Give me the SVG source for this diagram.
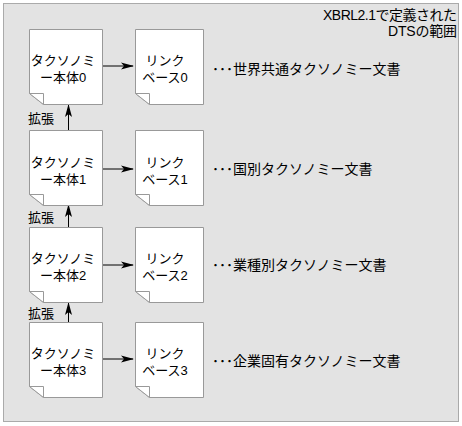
<svg xmlns="http://www.w3.org/2000/svg" width="462" height="426" viewBox="0 0 462 426">
<defs>
<style>
text{font-family:"Liberation Sans","Noto Sans CJK JP","Noto Sans CJK SC",sans-serif;font-size:13px;fill:#000}
.doc{fill:#fff;stroke:#999;stroke-width:1}
.fold{fill:#fff;stroke:#999;stroke-width:1}
.ln{stroke:#000;stroke-width:1;fill:none}
.c{text-anchor:middle}
.n{font-size:14px}
</style>
<marker id="ah" viewBox="0 0 13 8" refX="12" refY="4" markerWidth="13" markerHeight="8" markerUnits="userSpaceOnUse" orient="auto">
<path d="M0,0.5 L13,4 L0,7.5 L3,4 Z" fill="#000"/>
</marker>
<symbol id="dog" overflow="visible">
<path class="doc" d="M0.5,0.5 H73.5 V75.5 H14.5 L0.5,64.5 Z"/>
<path class="fold" d="M0.5,64.5 H14.5 V75.5 Z"/>
</symbol>
<symbol id="dogl" overflow="visible">
<path class="doc" d="M0.5,0.5 H68.5 V75.5 H14.5 L0.5,64.5 Z"/>
<path class="fold" d="M0.5,64.5 H14.5 V75.5 Z"/>
</symbol>
</defs>
<rect x="3.5" y="3.5" width="455" height="418" fill="#e3e3e3" stroke="#aaa"/>
<text x="457" y="20" text-anchor="end" class="n" textLength="134" lengthAdjust="spacing">XBRL2.1で定義された</text>
<text x="457" y="36" text-anchor="end" class="n" textLength="69" lengthAdjust="spacing">DTSの範囲</text>
<g id="connectors">
<line class="ln" x1="102" y1="66" x2="133" y2="66" marker-end="url(#ah)"/>
<line class="ln" x1="102" y1="169" x2="133" y2="169" marker-end="url(#ah)"/>
<line class="ln" x1="102" y1="265" x2="133" y2="265" marker-end="url(#ah)"/>
<line class="ln" x1="102" y1="359" x2="133" y2="359" marker-end="url(#ah)"/>
<line class="ln" x1="68.5" y1="130" x2="68.5" y2="105" marker-end="url(#ah)"/>
<line class="ln" x1="68.5" y1="227" x2="68.5" y2="205" marker-end="url(#ah)"/>
<line class="ln" x1="68.5" y1="322" x2="68.5" y2="303" marker-end="url(#ah)"/>
<text x="28" y="123">拡張</text>
<text x="28" y="222">拡張</text>
<text x="28" y="318">拡張</text>
</g>
<g id="tax0"><use href="#dog" x="29" y="29"/><text class="c" x="63" y="65">タクソノミ</text><text class="c" x="63" y="82">ー本体0</text></g>
<g id="link0"><use href="#dogl" x="135" y="29"/><text class="c" x="165" y="65">リンク</text><text class="c" x="165" y="82">ベース0</text></g>
<g id="tax1"><use href="#dog" x="29" y="130"/><text class="c" x="63" y="167">タクソノミ</text><text class="c" x="63" y="184">ー本体1</text></g>
<g id="link1"><use href="#dogl" x="135" y="130"/><text class="c" x="165" y="167">リンク</text><text class="c" x="165" y="184">ベース1</text></g>
<g id="tax2"><use href="#dog" x="29" y="227"/><text class="c" x="63" y="263">タクソノミ</text><text class="c" x="63" y="280">ー本体2</text></g>
<g id="link2"><use href="#dogl" x="135" y="227"/><text class="c" x="165" y="263">リンク</text><text class="c" x="165" y="280">ベース2</text></g>
<g id="tax3"><use href="#dog" x="29" y="322"/><text class="c" x="63" y="358">タクソノミ</text><text class="c" x="63" y="375">ー本体3</text></g>
<g id="link3"><use href="#dogl" x="135" y="322"/><text class="c" x="165" y="358">リンク</text><text class="c" x="165" y="375">ベース3</text></g>
<g id="notes">
<text class="n" x="212" y="74">･･･世界共通タクソノミー文書</text>
<text class="n" x="212" y="174">･･･国別タクソノミー文書</text>
<text class="n" x="212" y="270">･･･業種別タクソノミー文書</text>
<text class="n" x="212" y="366">･･･企業固有タクソノミー文書</text>
</g>
</svg>
